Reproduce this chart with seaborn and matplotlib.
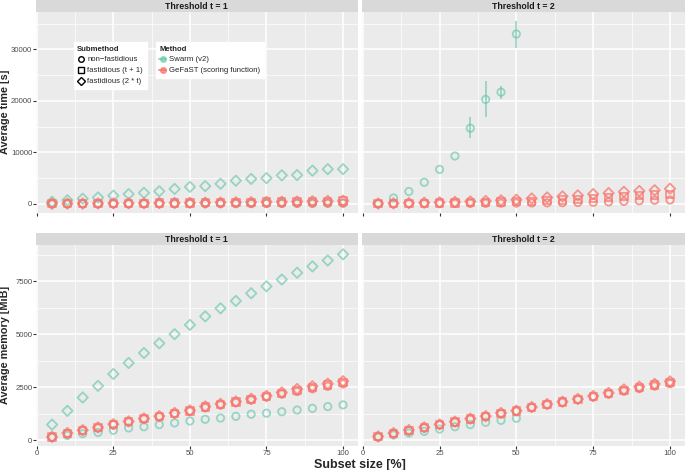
import numpy as np
import pandas as pd
import matplotlib
matplotlib.use('Agg')
import matplotlib.pyplot as plt
from matplotlib.lines import Line2D
from matplotlib.ticker import MultipleLocator
import seaborn as sns

#######################################################################################################################
# DATA #
#######################################################################################################################

Subset_Size = [5, 10, 15, 20, 25, 30, 35, 40, 45, 50, 55, 60, 65, 70, 75, 80, 85, 90, 95, 100]
Methods = ['Swarm (v2)', 'GeFaST (scoring function)']
Submethods = ['non\u2212fastidious', 'fastidious (t + 1)', 'fastidious (2 * t)']
Colors = {'Swarm (v2)': '#5EC4A8', 'GeFaST (scoring function)': '#F8766D'}
Alphas = {'Swarm (v2)': 0.6, 'GeFaST (scoring function)': 0.75}
Markers = {'non\u2212fastidious': 'o', 'fastidious (t + 1)': 's', 'fastidious (2 * t)': 'D'}

# average time [s], threshold t = 1
Time_Swarm_NF_T1 = [10, 15, 20, 30, 35, 40, 50, 55, 60, 70, 75, 80, 90, 95, 100, 110, 120, 130, 140, 150]
Time_Swarm_Fast_T1 = [400, 700, 1000, 1250, 1600, 1900, 2150, 2450, 2900, 3300,
                      3450, 3900, 4500, 4850, 5000, 5550, 5600, 6450, 6750, 6750]
Time_GeFaST_NF_T1 = [5, 10, 15, 20, 25, 30, 35, 40, 45, 50, 55, 60, 65, 70, 80, 90, 100, 110, 120, 130]
Time_GeFaST_T1p_T1 = [20, 35, 50, 70, 90, 110, 130, 150, 175, 200, 225, 255, 285, 315, 350, 390, 430, 470, 520, 570]
Time_GeFaST_2t_T1 = [25, 40, 55, 75, 95, 115, 135, 160, 185, 210, 240, 270, 300, 335, 370, 410, 450, 500, 560, 620]

# average time [s], threshold t = 2
Time_Swarm_NF_T2 = [100, 1150, 2400, 4200, 6700, 9300, 14700, 20300, 21700, 33000]
Time_Swarm_Err_X = [35, 40, 45, 50]
Time_Swarm_Err_Low = [12700, 16800, 20400, 30300]
Time_Swarm_Err_High = [16800, 23800, 22900, 35600]
Time_GeFaST_NF_T2 = [20, 30, 40, 50, 70, 80, 100, 110, 130, 150, 170, 190, 230, 260, 300, 380, 480, 600, 700, 750]
Time_GeFaST_T1p_T2 = [40, 60, 90, 120, 160, 200, 250, 300, 360, 430, 520, 600, 720, 850, 1000, 1200, 1450, 1600, 1700, 1850]
Time_GeFaST_2t_T2 = [60, 100, 160, 230, 300, 380, 460, 560, 680, 800,
                     1050, 1250, 1450, 1650, 1900, 2100, 2350, 2500, 2650, 2950]

# average memory [MiB], threshold t = 1
Mem_Swarm_NF_T1 = [140, 220, 300, 360, 460, 570, 630, 730, 810, 900, 980, 1040, 1120, 1220, 1270, 1340, 1420, 1500, 1580, 1660]
Mem_Swarm_Fast_T1 = [730, 1380, 2010, 2560, 3120, 3640, 4110, 4570, 5000, 5440,
                     5840, 6220, 6570, 6930, 7260, 7580, 7900, 8200, 8480, 8770]
Mem_GeFaST_NF_T1 = [130, 300, 440, 570, 720, 850, 990, 1100, 1240, 1360, 1530, 1660, 1770, 1890, 2030, 2170, 2290, 2420, 2540, 2650]
Mem_GeFaST_T1p_T1 = [140, 315, 455, 585, 735, 865, 1005, 1115, 1260, 1380, 1560, 1685, 1795, 1920, 2060, 2210, 2350, 2480, 2600, 2720]
Mem_GeFaST_2t_T1 = [150, 330, 470, 600, 750, 880, 1020, 1130, 1280, 1400, 1590, 1710, 1820, 1950, 2090, 2250, 2410, 2540, 2660, 2780]

# average memory [MiB], threshold t = 2
Mem_Swarm_NF_T2 = [140, 240, 330, 410, 520, 630, 730, 840, 930, 1030]
Mem_GeFaST_NF_T2 = [150, 300, 440, 570, 710, 840, 980, 1100, 1240, 1360, 1530, 1670, 1780, 1910, 2040, 2170, 2310, 2430, 2550, 2660]
Mem_GeFaST_T1p_T2 = [160, 315, 455, 585, 725, 855, 995, 1115, 1260, 1375, 1545, 1685, 1795, 1925, 2060, 2200, 2350, 2475, 2600, 2715]
Mem_GeFaST_2t_T2 = [170, 330, 470, 600, 740, 870, 1010, 1130, 1280, 1390, 1560, 1700, 1810, 1940, 2080, 2230, 2390, 2520, 2650, 2770]

#######################################################################################################################
# BUILD #
#######################################################################################################################

def Make_Frame(Series):
    Rows = []
    for Method, Submethod, Values in Series:
        for X, Y in zip(Subset_Size, Values):
            Rows.append({'Subset': X, 'Value': Y, 'Method': Method, 'Submethod': Submethod})
    return pd.DataFrame(Rows)

NF, T1P, TT = Submethods
SW, GF = Methods

Panels = {
    ('time', 1): Make_Frame([(SW, NF, Time_Swarm_NF_T1), (SW, TT, Time_Swarm_Fast_T1),
                             (GF, NF, Time_GeFaST_NF_T1), (GF, T1P, Time_GeFaST_T1p_T1), (GF, TT, Time_GeFaST_2t_T1)]),
    ('time', 2): Make_Frame([(SW, NF, Time_Swarm_NF_T2),
                             (GF, NF, Time_GeFaST_NF_T2), (GF, T1P, Time_GeFaST_T1p_T2), (GF, TT, Time_GeFaST_2t_T2)]),
    ('mem', 1): Make_Frame([(SW, NF, Mem_Swarm_NF_T1), (SW, TT, Mem_Swarm_Fast_T1),
                            (GF, NF, Mem_GeFaST_NF_T1), (GF, T1P, Mem_GeFaST_T1p_T1), (GF, TT, Mem_GeFaST_2t_T1)]),
    ('mem', 2): Make_Frame([(SW, NF, Mem_Swarm_NF_T2),
                            (GF, NF, Mem_GeFaST_NF_T2), (GF, T1P, Mem_GeFaST_T1p_T2), (GF, TT, Mem_GeFaST_2t_T2)]),
}

#######################################################################################################################
# PLOT #
#######################################################################################################################

sns.set_theme(style='darkgrid')
plt.rcParams['font.family'] = ['Liberation Sans', 'DejaVu Sans']
plt.rcParams['axes.facecolor'] = '#EBEBEB'
plt.rcParams['grid.color'] = 'white'

Figure = plt.figure(figsize=(6.85, 4.70), dpi=100)
W, H = 685.0, 470.0

Columns_X = [(36, 357.6), (362, 684.6)]
Rows_Y = [(12, 213), (245, 446)]
Y_Limits = {'time': (-1775, 37275), 'mem': (-280, 9210)}
Y_Ticks = {'time': [0, 10000, 20000, 30000], 'mem': [0, 2500, 5000, 7500]}
Y_Minor = {'time': 5000, 'mem': 1250}

Axes = {}
for Row_Index, Kind in enumerate(['time', 'mem']):
    for Col_Index, T in enumerate([1, 2]):
        X0, X1 = Columns_X[Col_Index]
        Y0, Y1 = Rows_Y[Row_Index]
        Axis = Figure.add_axes([X0 / W, 1 - Y1 / H, (X1 - X0) / W, (Y1 - Y0) / H])
        Axes[(Kind, T)] = Axis

        Data = Panels[(Kind, T)]
        # one call per method, so each can get its own transparency
        for Method in Methods:
            Part = Data[Data['Method'] == Method]
            Before = len(Axis.collections)
            sns.scatterplot(data=Part, x='Subset', y='Value', hue='Method', style='Submethod',
                            hue_order=Methods, style_order=Submethods, palette=Colors, markers=Markers,
                            s=28, linewidth=1.3, legend=False, ax=Axis, zorder=3)
            # open markers, ggplot-like
            for Collection in Axis.collections[Before:]:
                Face = np.array(Collection.get_facecolors())
                Face[:, 3] = Alphas[Method]
                Collection.set_edgecolors(Face)
                Collection.set_facecolors('none')

        if Kind == 'time' and T == 2:
            Axis.vlines(Time_Swarm_Err_X, Time_Swarm_Err_Low, Time_Swarm_Err_High,
                        color=Colors[SW], alpha=Alphas[SW], lw=1.3, zorder=2)

        Axis.set_xlim(-0.25, 104.75)
        Axis.set_ylim(*Y_Limits[Kind])
        Axis.set_xticks([0, 25, 50, 75, 100])
        Axis.set_yticks(Y_Ticks[Kind])
        Axis.xaxis.set_minor_locator(MultipleLocator(12.5))
        Axis.yaxis.set_minor_locator(MultipleLocator(Y_Minor[Kind]))
        Axis.grid(which='major', color='white', lw=1.1)
        Axis.grid(which='minor', color='white', lw=0.5)
        Axis.set_axisbelow(True)
        for Spine in Axis.spines.values():
            Spine.set_visible(False)
        Axis.set_xlabel('')
        Axis.set_ylabel('')
        Axis.tick_params(which='major', length=2.2, width=0.8, color='#333333', labelcolor='#4D4D4D',
                         labelsize=5.6, pad=0.5)
        Axis.tick_params(which='minor', length=0)
        Axis.tick_params(axis='x', bottom=True)
        if Kind == 'time':
            Axis.tick_params(axis='x', labelbottom=False)
        if T == 2:
            Axis.tick_params(axis='y', left=False, labelleft=False)
        else:
            Axis.tick_params(axis='y', left=True)

        # strip
        Strip = Figure.add_axes([X0 / W, 1 - Y0 / H, (X1 - X0) / W, 12 / H])
        Strip.set_facecolor('#D9D9D9')
        Strip.set_xticks([])
        Strip.set_yticks([])
        for Spine in Strip.spines.values():
            Spine.set_visible(False)
        Strip.text(0.5, 0.45, 'Threshold t = %d' % T, ha='center', va='center',
                   fontsize=6.3, fontweight='bold', color='#1A1A1A', transform=Strip.transAxes)

Figure.text(0.5 / W, 1 - 112 / H, 'Average time [s]', rotation=90, ha='left', va='center',
            fontsize=7.8, fontweight='bold')
Figure.text(0.5 / W, 1 - 345 / H, 'Average memory [MiB]', rotation=90, ha='left', va='center',
            fontsize=7.8, fontweight='bold')
Figure.text(360 / W, 1 - 465 / H, 'Subset size [%]', ha='center', va='center',
            fontsize=9, fontweight='bold')

# legends
Top_Left = Axes[('time', 1)]
Sub_Handles = [Line2D([], [], ls='none', marker=Markers[S], mfc='none', mec='black', ms=4, mew=1.0)
               for S in Submethods]
Legend_1 = Top_Left.legend(Sub_Handles, Submethods, title='Submethod', loc='upper left',
                           bbox_to_anchor=(0.105, 0.87), fontsize=5.6, title_fontsize=5.6,
                           frameon=True, fancybox=False, framealpha=1, edgecolor='white',
                           facecolor='white', handlelength=0.9, handletextpad=0.4,
                           borderpad=0.45, labelspacing=0.45, alignment='left')
Legend_1.get_title().set_fontweight('bold')
Top_Left.add_artist(Legend_1)

Method_Handles = [Line2D([], [], color=Colors[M], alpha=Alphas[M], marker='o', ms=4, lw=1.5) for M in Methods]
Legend_2 = Top_Left.legend(Method_Handles, Methods, title='Method', loc='upper left',
                           bbox_to_anchor=(0.36, 0.87), fontsize=5.6, title_fontsize=5.6,
                           frameon=True, fancybox=False, framealpha=1, edgecolor='white',
                           facecolor='white', handlelength=0.9, handletextpad=0.4,
                           borderpad=0.45, labelspacing=0.45, alignment='left')
Legend_2.get_title().set_fontweight('bold')

plt.savefig('out.png', dpi=100)
